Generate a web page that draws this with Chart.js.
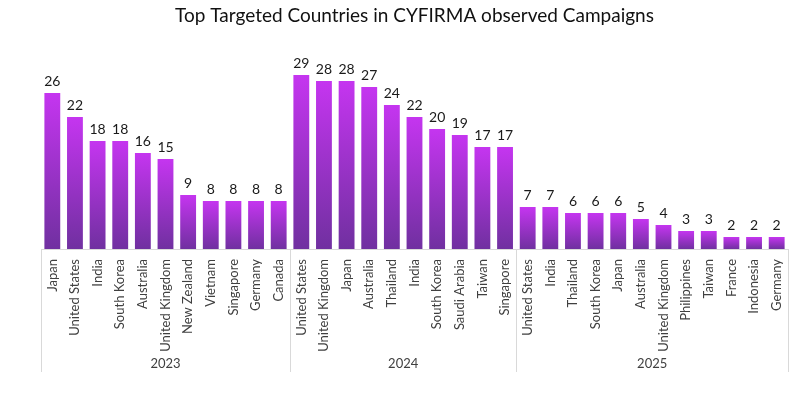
<!DOCTYPE html>
<html>
<head>
<meta charset="utf-8">
<script src="https://cdn.jsdelivr.net/npm/chart.js@4.4.1/dist/chart.umd.min.js"></script>
<style>
  html, body { margin: 0; padding: 0; background: #fff; }
  #wrap { width: 801px; height: 397px; }
</style>
</head>
<body>
<div id="wrap"><canvas id="chart" width="801" height="397"></canvas></div>
<script>
// --- Data ---
const countries2023 = ['Japan', 'United States', 'India', 'South Korea', 'Australia', 'United Kingdom', 'New Zealand', 'Vietnam', 'Singapore', 'Germany', 'Canada'];
const values2023 = [26, 22, 18, 18, 16, 15, 9, 8, 8, 8, 8];
const countries2024 = ['United States', 'United Kingdom', 'Japan', 'Australia', 'Thailand', 'India', 'South Korea', 'Saudi Arabia', 'Taiwan', 'Singapore'];
const values2024 = [29, 28, 28, 27, 24, 22, 20, 19, 17, 17];
const countries2025 = ['United States', 'India', 'Thailand', 'South Korea', 'Japan', 'Australia', 'United Kingdom', 'Philippines', 'Taiwan', 'France', 'Indonesia', 'Germany'];
const values2025 = [7, 7, 6, 6, 6, 5, 4, 3, 3, 2, 2, 2];
const years = ['2023', '2024', '2025'];

const FONT = "'Lato', 'Open Sans', sans-serif";

// flatten groups into one category axis
const groups = [
    { year: years[0], labels: countries2023, values: values2023 },
    { year: years[1], labels: countries2024, values: values2024 },
    { year: years[2], labels: countries2025, values: values2025 }
];
const labels = [];
const values = [];
groups.forEach(g => {
    g.labels.forEach(l => labels.push(l));
    g.values.forEach(v => values.push(v));
});

// per-bar vertical gradient
function barGradient(ctx) {
    const chart = ctx.chart;
    if (!chart.chartArea || ctx.raw === undefined) return '#a030d0';
    const y = chart.scales.y;
    const top = y.getPixelForValue(ctx.raw);
    const bottom = y.getPixelForValue(0);
    const g = chart.ctx.createLinearGradient(0, top, 0, bottom);
    g.addColorStop(0, '#c535f0');
    g.addColorStop(1, '#7030a0');
    return g;
}

// value labels, group separators and year labels
const extras = {
    id: 'extras',
    afterDatasetsDraw(chart) {
        const { ctx, scales: { x, y } } = chart;
        const meta = chart.getDatasetMeta(0);
        ctx.save();
        ctx.fillStyle = '#1a1a1a';
        ctx.font = '14px ' + FONT;
        ctx.textAlign = 'center';
        ctx.textBaseline = 'bottom';
        meta.data.forEach((bar, i) => {
            ctx.fillText(values[i], bar.x, bar.y - 5);
        });

        const half = (x.getPixelForValue(1) - x.getPixelForValue(0)) / 2;
        const base = y.getPixelForValue(0);
        ctx.strokeStyle = '#d9d9d9';
        ctx.lineWidth = 1;
        ctx.fillStyle = '#404040';
        ctx.font = '13px ' + FONT;
        ctx.textBaseline = 'middle';
        let start = 0;
        groups.forEach((g, gi) => {
            const end = start + g.values.length - 1;
            const left = x.getPixelForValue(start) - half;
            const right = x.getPixelForValue(end) + half;
            if (gi === 0) {
                ctx.beginPath();
                ctx.moveTo(Math.round(left) + 0.5, base);
                ctx.lineTo(Math.round(left) + 0.5, 372);
                ctx.stroke();
            }
            ctx.beginPath();
            ctx.moveTo(Math.round(right) + 0.5, base);
            ctx.lineTo(Math.round(right) + 0.5, 372);
            ctx.stroke();
            ctx.fillText(g.year, (left + right) / 2, 364);
            start = end + 1;
        });
        ctx.restore();
    }
};

new Chart(document.getElementById('chart'), {
    type: 'bar',
    data: {
        labels: labels,
        datasets: [{
            data: values,
            backgroundColor: barGradient,
            categoryPercentage: 1,
            barPercentage: 0.7
        }]
    },
    options: {
        responsive: false,
        animation: false,
        layout: { padding: { left: 41, right: 13, top: 0, bottom: 0 } },
        plugins: {
            legend: { display: false },
            tooltip: { enabled: false },
            title: {
                display: true,
                text: 'Top Targeted Countries in CYFIRMA observed Campaigns',
                color: '#111',
                font: { family: FONT, size: 19, weight: 'normal', lineHeight: 1.2 },
                padding: { top: 4, bottom: 42.2 }
            }
        },
        scales: {
            x: {
                afterFit: (s) => { s.height = 148; },
                grid: { display: false },
                border: { display: true, color: '#d9d9d9' },
                ticks: {
                    color: '#404040',
                    font: { family: FONT, size: 13 },
                    minRotation: 90,
                    maxRotation: 90,
                    autoSkip: false,
                    padding: 2
                }
            },
            y: {
                display: false,
                min: 0,
                max: 30
            }
        }
    },
    plugins: [extras]
});
</script>
</body>
</html>
